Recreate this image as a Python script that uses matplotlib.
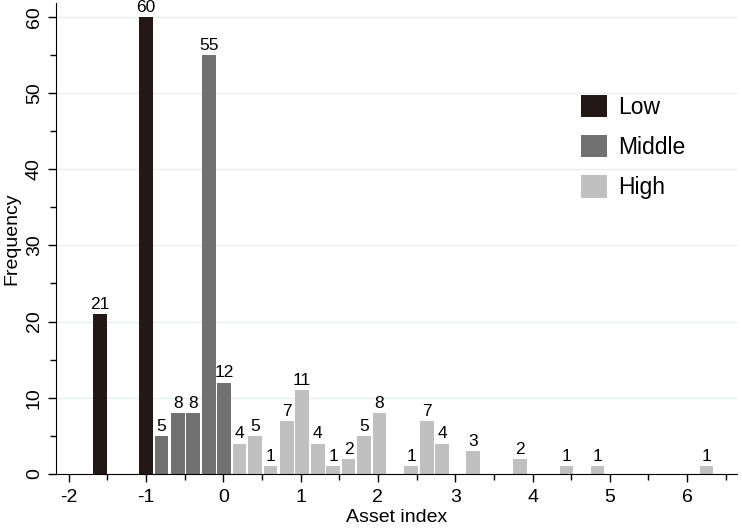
import matplotlib
matplotlib.use('Agg')
import matplotlib.pyplot as plt
from matplotlib.ticker import MultipleLocator

plt.rcParams['font.family'] = ['Liberation Sans', 'DejaVu Sans']
plt.rcParams['axes.unicode_minus'] = False

# bin centres (asset index) and counts, by group
low_x = [-1.60, -1.00]
low_n = [21, 60]
mid_x = [-0.80, -0.59, -0.39, -0.19, 0.01]
mid_n = [5, 8, 8, 55, 12]
high_x = [0.21, 0.41, 0.61, 0.82, 1.02, 1.22, 1.42, 1.62, 1.82, 2.02,
          2.43, 2.63, 2.83, 3.23, 3.84, 4.44, 4.84, 6.25]
high_n = [4, 5, 1, 7, 11, 4, 1, 2, 5, 8, 1, 7, 4, 3, 2, 1, 1, 1]

groups = [('Low', low_x, low_n, '#231815'),
          ('Middle', mid_x, mid_n, '#717171'),
          ('High', high_x, high_n, '#c0c0c0')]

fig = plt.figure(figsize=(7.42, 5.28), dpi=100)
ax = fig.add_axes([0.0755, 0.1023, 0.9178, 0.892])

for name, xs, ns, col in groups:
    bars = ax.bar(xs, ns, width=0.178, color=col, label=name, zorder=2)
    ax.bar_label(bars, labels=[str(n) for n in ns], padding=1.5, fontsize=12.5)

ax.set_xlim(-2.165, 6.646)
ax.set_ylim(0, 61.8)
ax.xaxis.set_major_locator(MultipleLocator(1))
ax.xaxis.set_minor_locator(MultipleLocator(0.5))
ax.yaxis.set_major_locator(MultipleLocator(10))
ax.yaxis.set_minor_locator(MultipleLocator(5))
ax.tick_params(which='major', length=6, width=1, labelsize=14, color='black')
ax.tick_params(axis='x', which='major', pad=5)
ax.tick_params(which='minor', length=4, width=1, color='black')
for lab in ax.get_yticklabels():
    lab.set_rotation(90)
    lab.set_va('center')
ax.grid(axis='y', which='major', color='#e8efef', linewidth=1, zorder=0)
ax.set_axisbelow(True)

ax.set_xlabel('Asset index', fontsize=14, labelpad=2)
ax.set_ylabel('Frequency', fontsize=14, labelpad=4)
ax.spines['top'].set_visible(False)
ax.spines['right'].set_visible(False)

ax.legend(loc='upper left', bbox_to_anchor=(0.754, 0.829), frameon=False,
          fontsize=16.5, handlelength=1.13, handleheight=1.13,
          labelspacing=0.70, handletextpad=0.5, borderpad=0)

plt.savefig('out.png', dpi=100)
